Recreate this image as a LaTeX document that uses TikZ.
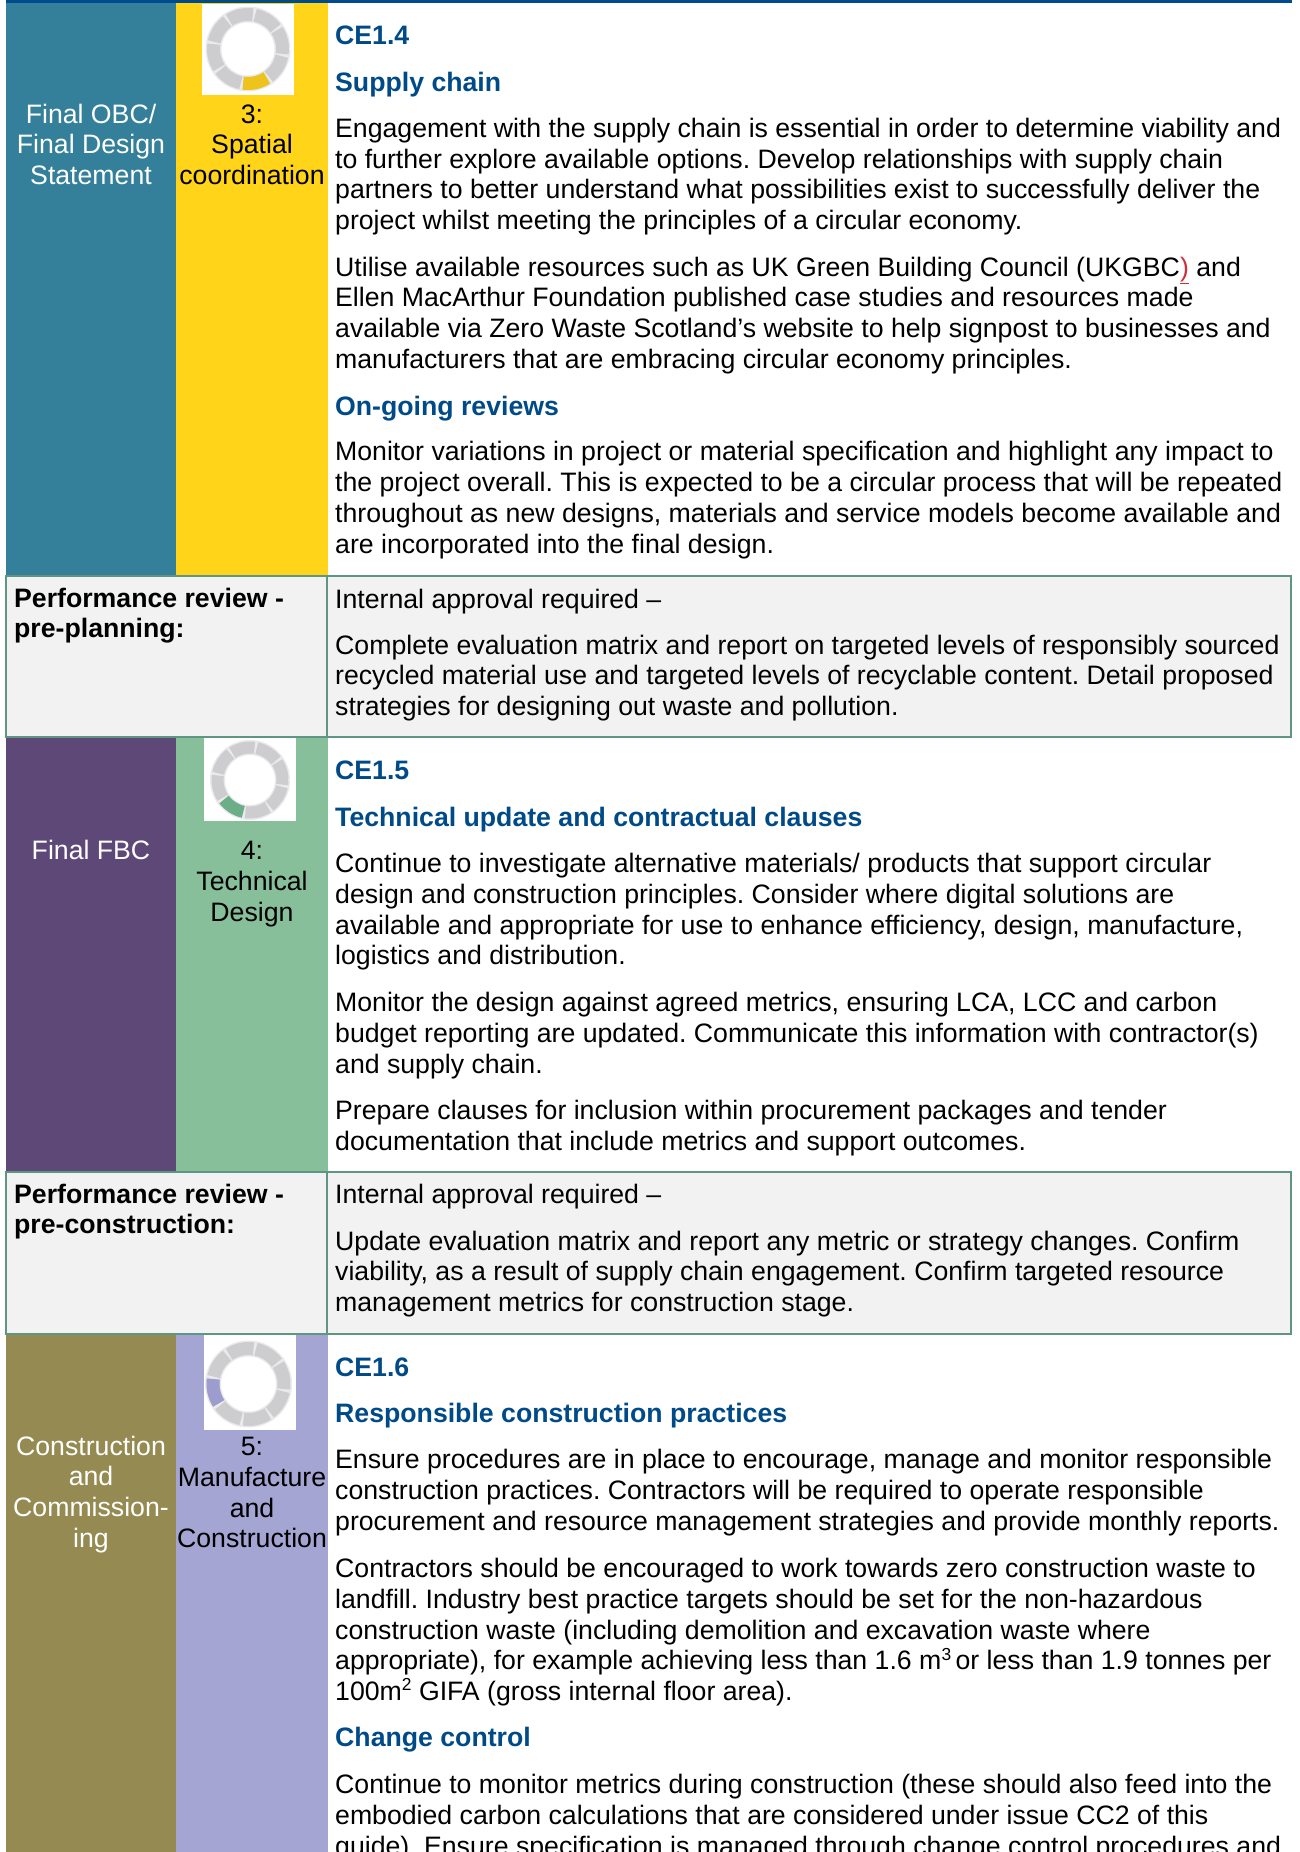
\documentclass[tikz,border=0pt]{standalone}
\usepackage{fontspec}
\setmainfont{Liberation Sans}
\frenchspacing
\definecolor{topbar}{HTML}{004B8D}
\definecolor{headblue}{HTML}{004B87}
\definecolor{teal1}{HTML}{34809A}
\definecolor{yellow1}{HTML}{FFD419}
\definecolor{purple1}{HTML}{5E4878}
\definecolor{green1}{HTML}{86BF9A}
\definecolor{olive1}{HTML}{948A52}
\definecolor{lav1}{HTML}{A5A5D3}
\definecolor{rowgrey}{HTML}{F2F2F2}
\definecolor{rowline}{HTML}{5F9682}
\definecolor{ringgrey}{HTML}{CDCDD0}
\definecolor{ringsoft}{HTML}{EAEAEC}
\definecolor{linkred}{HTML}{D0303A}
\definecolor{hiyellow}{HTML}{EEC41C}
\definecolor{higreen}{HTML}{6BAE88}
\definecolor{hilav}{HTML}{9C9CCF}
\newcommand{\fl}{\rule{0pt}{26pt}}
\newcommand{\supnum}[1]{\raisebox{0.36em}{\fontsize{17.4}{17.4}\selectfont #1}}
\newcommand{\ringicon}[6]{%
  \begin{scope}[shift={(#1,#2)},y=1pt]
    \draw[ringsoft,line width=#4+3pt] (0:#3) arc[start angle=0,end angle=360,radius=#3];
    \foreach \a in {-190,-145,...,125}{
      \draw[ringgrey,line width=#4] (\a+2:#3) arc[start angle=\a+2,end angle=\a+43,radius=#3];
    }
    \draw[#6,line width=#4] (#5+2:#3) arc[start angle=#5+2,end angle=#5+43,radius=#3];
  \end{scope}}
\tikzset{
  body/.style={anchor=north west,inner sep=0pt,align=left,font=\fontsize{26.67}{30.7}\selectfont,text=black},
  head/.style={body,font=\fontsize{26.67}{30.7}\selectfont\bfseries,text=headblue},
  rev/.style={body,font=\fontsize{26.67}{30.7}\selectfont\bfseries},
  stagew/.style={anchor=north,inner sep=0pt,align=center,font=\fontsize{26.67}{30.7}\selectfont,text=white},
  stagek/.style={stagew,text=black},
  reviewcell/.style={draw=rowline,line width=1.5pt,fill=rowgrey},
  icon/.style={fill=white,draw=none}
}
\begin{document}
\begin{tikzpicture}[x=1pt,y=-1pt]
\useasboundingbox (0,0) rectangle (1299,1852);
\clip (0,0) rectangle (1299,1852);
% bands
\fill[topbar] (6,0) rectangle (1292,3);
\fill[teal1] (6,3) rectangle (176,576);
\fill[yellow1] (176,3) rectangle (328,576);
\fill[purple1] (6,737) rectangle (176,1172);
\fill[green1] (176,737) rectangle (328,1172);
\fill[olive1] (6,1334) rectangle (176,1852);
\fill[lav1] (176,1334) rectangle (328,1852);
% review rows
\draw[reviewcell] (6,576) rectangle (327,737);
\draw[reviewcell] (327,576) rectangle (1291,737);
\draw[reviewcell] (6,1172) rectangle (327,1334);
\draw[reviewcell] (327,1172) rectangle (1291,1334);
% icons
\fill[icon] (202,4) rectangle (294,95);
\ringicon{248}{49}{34.5pt}{13pt}{260}{hiyellow}
\fill[icon] (204,738) rectangle (296,821);
\ringicon{250}{780}{32.5pt}{12pt}{215}{higreen}
\fill[icon] (204,1335) rectangle (296,1430);
\ringicon{248.5}{1384}{35.5pt}{13pt}{170}{hilav}
% stage labels
\node[stagew] (s1) at (91,97) {\fl Final OBC/\\Final Design\\Statement};
\node[stagek] (w1) at (252,97) {\fl 3:\\Spatial\\coordination};
\node[stagew] (s2) at (91,833.7) {\fl Final FBC};
\node[stagek] (w2) at (252,833.7) {\fl 4:\\Technical\\Design};
\node[stagew] (s3) at (91,1429) {\fl Construction\\and\\Commission-\\ing};
\node[stagek] (w3) at (252,1429.5) {\fl 5:\\Manufacture\\and\\Construction};
% block 1
\node[head] (h1) at (335,18.3) {\fl CE1.4};
\node[head] (h2) at (335,65) {\fl Supply chain};
\node[body] (p1) at (335,111.2) {\fl Engagement with the supply chain is essential in order to determine viability and\\to further explore available options. Develop relationships with supply chain\\partners to better understand what possibilities exist to successfully deliver the\\project whilst meeting the principles of a circular economy.};
\node[body] (p2) at (335,250) {\fl Utilise available resources such as UK Green Building Council (UKGBC{\color{linkred}\underline{)}} and\\Ellen MacArthur Foundation published case studies and resources made\\available via Zero Waste Scotland’s website to help signpost to businesses and\\manufacturers that are embracing circular economy principles.};
\node[head] (h3) at (335,389) {\fl On-going reviews};
\node[body] (p3) at (335,434.7) {\fl Monitor variations in project or material specification and highlight any impact to\\the project overall. This is expected to be a circular process that will be repeated\\throughout as new designs, materials and service models become available and\\are incorporated into the final design.};
% review 1
\node[rev] (r1) at (14,581) {\fl Performance review -\\pre-planning:};
\node[body] (a1) at (335,582) {\fl Internal approval required –};
\node[body] (a2) at (335,628) {\fl Complete evaluation matrix and report on targeted levels of responsibly sourced\\recycled material use and targeted levels of recyclable content. Detail proposed\\strategies for designing out waste and pollution.};
% block 2
\node[head] (h4) at (335,753.3) {\fl CE1.5};
\node[head] (h5) at (335,800) {\fl Technical update and contractual clauses};
\node[body] (p4) at (335,846.4) {\fl Continue to investigate alternative materials/ products that support circular\\design and construction principles. Consider where digital solutions are\\available and appropriate for use to enhance efficiency, design, manufacture,\\logistics and distribution.};
\node[body] (p5) at (335,985.4) {\fl Monitor the design against agreed metrics, ensuring LCA, LCC and carbon\\budget reporting are updated. Communicate this information with contractor(s)\\and supply chain.};
\node[body] (p6) at (335,1093.3) {\fl Prepare clauses for inclusion within procurement packages and tender\\documentation that include metrics and support outcomes.};
% review 2
\node[rev] (r2) at (14,1177) {\fl Performance review -\\pre-construction:};
\node[body] (a3) at (335,1177.3) {\fl Internal approval required –};
\node[body] (a4) at (335,1224) {\fl Update evaluation matrix and report any metric or strategy changes. Confirm\\viability, as a result of supply chain engagement. Confirm targeted resource\\management metrics for construction stage.};
% block 3
\node[head] (h6) at (335,1350) {\fl CE1.6};
\node[head] (h7) at (335,1396.3) {\fl Responsible construction practices};
\node[body] (p7) at (335,1442.7) {\fl Ensure procedures are in place to encourage, manage and monitor responsible\\construction practices. Contractors will be required to operate responsible\\procurement and resource management strategies and provide monthly reports.};
\node[body] (p8) at (335,1551.4) {\fl Contractors should be encouraged to work towards zero construction waste to\\landfill. Industry best practice targets should be set for the non-hazardous\\construction waste (including demolition and excavation waste where\\appropriate), for example achieving less than 1.6 m\supnum{3}\kern-3pt{} or less than 1.9 tonnes per\\100m\supnum{2} GIFA (gross internal floor area).};
\node[head] (h8) at (335,1720) {\fl Change control};
\node[body] (p9) at (335,1767.5) {\fl Continue to monitor metrics during construction (these should also feed into the\\embodied carbon calculations that are considered under issue CC2 of this\\guide). Ensure specification is managed through change control procedures and};
\end{tikzpicture}
\end{document}
